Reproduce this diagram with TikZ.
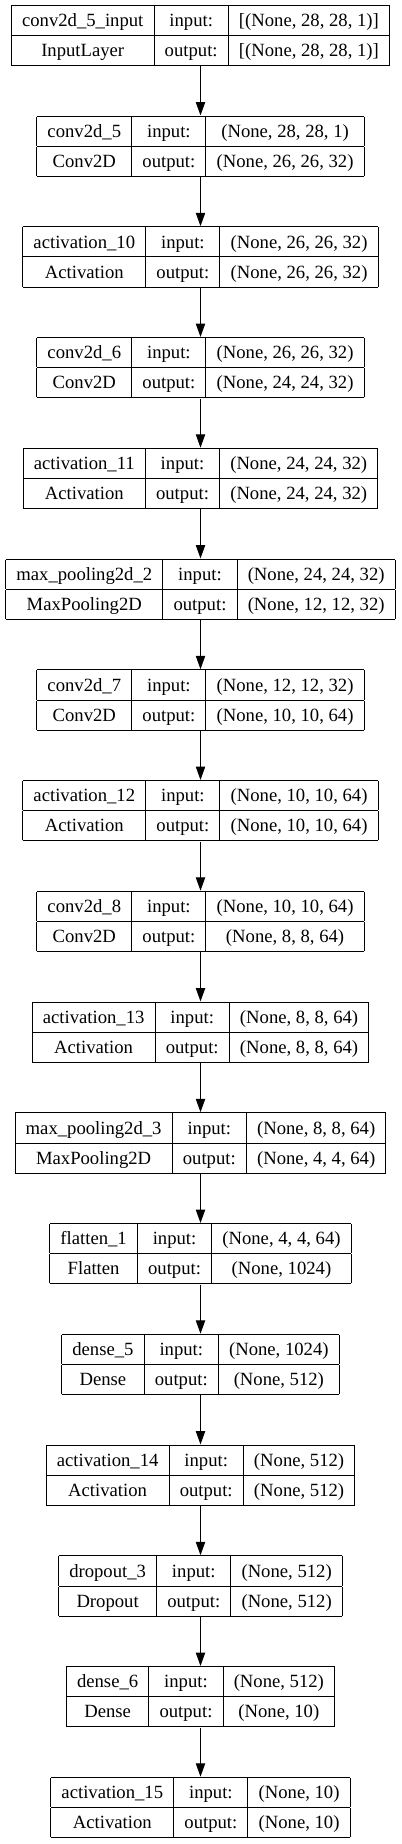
\documentclass[tikz,border=0pt]{standalone}
\usepackage{fontspec}
\setmainfont{Liberation Serif}
\usetikzlibrary{arrows.meta}
\setlength{\arrayrulewidth}{0.75pt}
\setlength{\tabcolsep}{8pt}
\newcommand{\rs}{\rule[-6.3pt]{0pt}{21.8pt}}
\newcommand{\layerbox}[4]{%
\begin{tabular}{|c|c|c|}\hline
\rs #1 & \rs input: & \rs #3\\\hline
\rs #2 & \rs output: & \rs #4\\\hline
\end{tabular}}

\begin{document}
\begin{tikzpicture}[>={Triangle[length=10pt,width=7pt]}, x=0.75pt, y=-0.75pt,
  layer/.style={inner sep=0pt, font=\fontsize{14}{17}\selectfont},
  arr/.style={->, line width=0.75pt}]
\useasboundingbox (0,0) rectangle (401,1844);
\node[layer] (inp) at (200.5,35.5) {\layerbox{conv2d\_5\_input}{InputLayer}{[(None, 28, 28, 1)]}{[(None, 28, 28, 1)]}};
\node[layer] (c5) at (200.5,146.25) {\layerbox{conv2d\_5}{Conv2D}{(None, 28, 28, 1)}{(None, 26, 26, 32)}};
\node[layer] (a10) at (200.5,257) {\layerbox{activation\_10}{Activation}{(None, 26, 26, 32)}{(None, 26, 26, 32)}};
\node[layer] (c6) at (200.5,367.75) {\layerbox{conv2d\_6}{Conv2D}{(None, 26, 26, 32)}{(None, 24, 24, 32)}};
\node[layer] (a11) at (200.5,478.5) {\layerbox{activation\_11}{Activation}{(None, 24, 24, 32)}{(None, 24, 24, 32)}};
\node[layer] (mp2) at (200.5,589.25) {\layerbox{max\_pooling2d\_2}{MaxPooling2D}{(None, 24, 24, 32)}{(None, 12, 12, 32)}};
\node[layer] (c7) at (200.5,700) {\layerbox{conv2d\_7}{Conv2D}{(None, 12, 12, 32)}{(None, 10, 10, 64)}};
\node[layer] (a12) at (200.5,810.75) {\layerbox{activation\_12}{Activation}{(None, 10, 10, 64)}{(None, 10, 10, 64)}};
\node[layer] (c8) at (200.5,921.5) {\layerbox{conv2d\_8}{Conv2D}{(None, 10, 10, 64)}{(None, 8, 8, 64)}};
\node[layer] (a13) at (200.5,1032.25) {\layerbox{activation\_13}{Activation}{(None, 8, 8, 64)}{(None, 8, 8, 64)}};
\node[layer] (mp3) at (200.5,1143) {\layerbox{max\_pooling2d\_3}{MaxPooling2D}{(None, 8, 8, 64)}{(None, 4, 4, 64)}};
\node[layer] (fl1) at (200.5,1253.75) {\layerbox{flatten\_1}{Flatten}{(None, 4, 4, 64)}{(None, 1024)}};
\node[layer] (d5) at (200.5,1364.5) {\layerbox{dense\_5}{Dense}{(None, 1024)}{(None, 512)}};
\node[layer] (a14) at (200.5,1475.25) {\layerbox{activation\_14}{Activation}{(None, 512)}{(None, 512)}};
\node[layer] (do3) at (200.5,1586) {\layerbox{dropout\_3}{Dropout}{(None, 512)}{(None, 512)}};
\node[layer] (d6) at (200.5,1696.75) {\layerbox{dense\_6}{Dense}{(None, 512)}{(None, 10)}};
\node[layer] (a15) at (200.5,1807.5) {\layerbox{activation\_15}{Activation}{(None, 10)}{(None, 10)}};
% connectors
\draw[arr] (inp) -- (c5);
\draw[arr] (c5) -- (a10);
\draw[arr] (a10) -- (c6);
\draw[arr] (c6) -- (a11);
\draw[arr] (a11) -- (mp2);
\draw[arr] (mp2) -- (c7);
\draw[arr] (c7) -- (a12);
\draw[arr] (a12) -- (c8);
\draw[arr] (c8) -- (a13);
\draw[arr] (a13) -- (mp3);
\draw[arr] (mp3) -- (fl1);
\draw[arr] (fl1) -- (d5);
\draw[arr] (d5) -- (a14);
\draw[arr] (a14) -- (do3);
\draw[arr] (do3) -- (d6);
\draw[arr] (d6) -- (a15);
\end{tikzpicture}
\end{document}
